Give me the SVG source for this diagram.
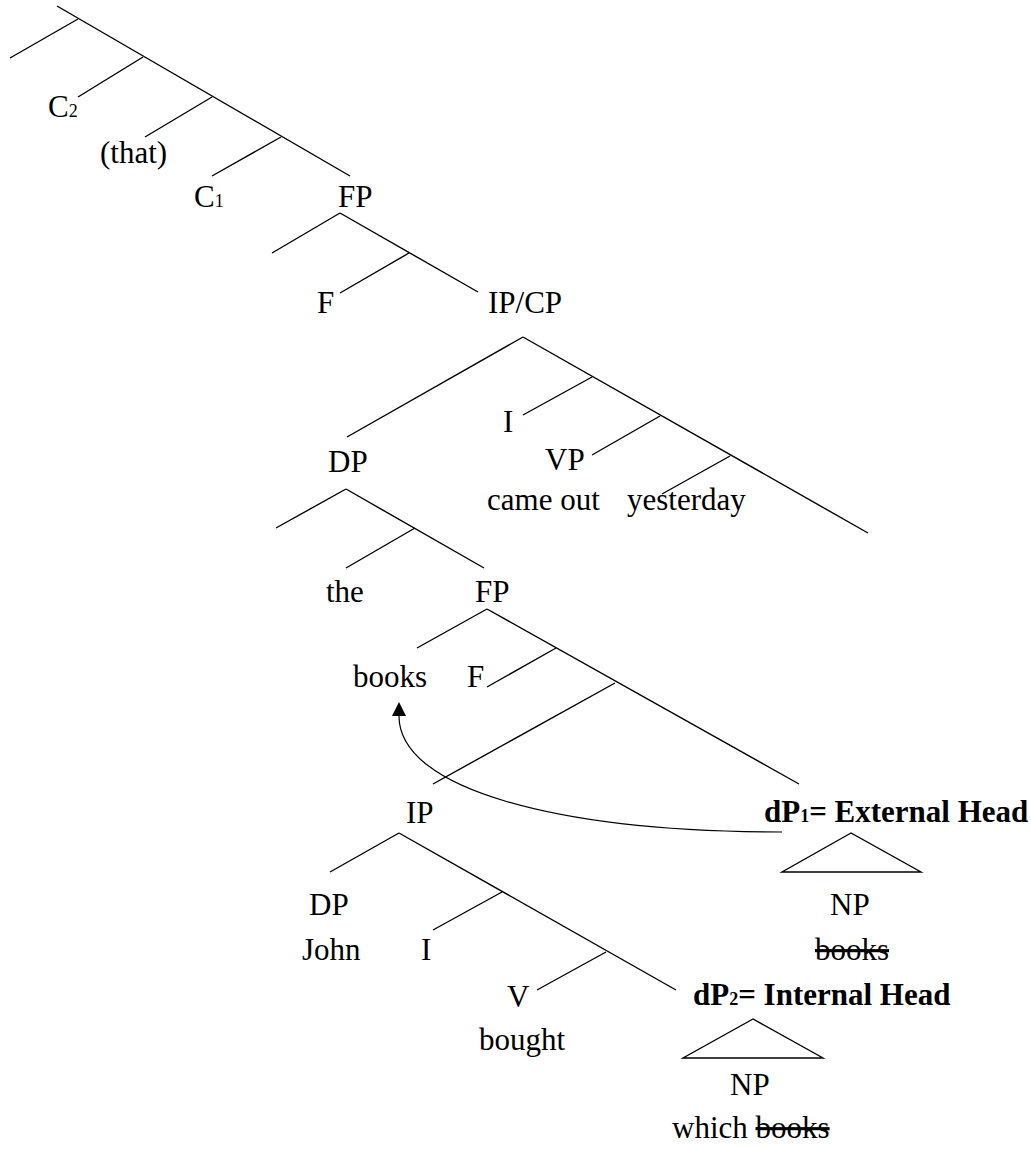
<svg xmlns="http://www.w3.org/2000/svg" width="1031" height="1149" viewBox="0 0 1031 1149">
<style>
text{font-family:"Liberation Serif","Times New Roman",serif;font-size:31px;fill:#000}
.b{font-weight:bold}
.sub{font-size:18px}
.s{text-decoration:line-through}
line,polygon.tri{stroke:#000;stroke-width:1.4;fill:none}
path.arc{stroke:#000;stroke-width:1.2;fill:none}
</style>
<defs>
<marker id="ah" viewBox="0 0 14 14" markerWidth="14" markerHeight="14" refX="0" refY="7" orient="auto" markerUnits="userSpaceOnUse">
<path d="M0,0 L14,7 L0,14 z" fill="#000"/>
</marker>
</defs>
<rect width="1031" height="1149" fill="#fff"/>
<g id="connectors">
<line x1="57" y1="6" x2="350" y2="176"/>
<line x1="78" y1="19" x2="10" y2="58"/>
<line x1="143" y1="57" x2="78" y2="97"/>
<line x1="212" y1="97" x2="145" y2="137"/>
<line x1="281" y1="137" x2="212" y2="176"/>
<line x1="340" y1="213" x2="272" y2="253"/>
<line x1="340" y1="213" x2="478" y2="292"/>
<line x1="409" y1="253" x2="340" y2="293"/>
<line x1="523" y1="337" x2="347" y2="437"/>
<line x1="523" y1="337" x2="868" y2="533"/>
<line x1="592" y1="377" x2="523" y2="415"/>
<line x1="660" y1="416" x2="592" y2="455"/>
<line x1="730" y1="456" x2="662" y2="494"/>
<line x1="346" y1="489" x2="276" y2="528"/>
<line x1="346" y1="489" x2="484" y2="568"/>
<line x1="415" y1="528" x2="346" y2="568"/>
<line x1="487" y1="609" x2="417" y2="648"/>
<line x1="487" y1="609" x2="799" y2="784"/>
<line x1="556" y1="648" x2="487" y2="687"/>
<line x1="615" y1="683" x2="433" y2="784"/>
<line x1="399" y1="833" x2="330" y2="872"/>
<line x1="399" y1="833" x2="676" y2="990"/>
<line x1="502" y1="892" x2="433" y2="930"/>
<line x1="606" y1="952" x2="537" y2="990"/>
<polygon class="tri" points="851,833 782,872 921,872"/>
<polygon class="tri" points="753,1019 683,1058 823,1058"/>
<path class="arc" d="M782,832 C560,832 399,790 399,716" marker-end="url(#ah)"/>
</g>
<g id="n-c2"><text x="48" y="117">C<tspan class="sub">2</tspan></text></g>
<g id="n-that"><text x="100" y="163">(that)</text></g>
<g id="n-c1"><text x="194" y="207">C<tspan class="sub">1</tspan></text></g>
<g id="n-fp1"><text x="338" y="207">FP</text></g>
<g id="n-f1"><text x="317" y="313">F</text></g>
<g id="n-ipcp"><text x="488" y="313">IP/CP</text></g>
<g id="n-i1"><text x="503" y="432">I</text></g>
<g id="n-dp1"><text x="328" y="472">DP</text></g>
<g id="n-vp"><text x="545" y="470">VP</text></g>
<g id="n-cameout"><text x="487" y="510">came out</text></g>
<g id="n-yesterday"><text x="627" y="510">yesterday</text></g>
<g id="n-the"><text x="326" y="602">the</text></g>
<g id="n-fp2"><text x="475" y="602">FP</text></g>
<g id="n-books"><text x="353" y="687">books</text></g>
<g id="n-f2"><text x="467" y="687">F</text></g>
<g id="n-ip"><text x="406" y="823">IP</text></g>
<g id="n-dp1head"><text class="b" x="764" y="822">dP<tspan class="sub">1</tspan>= External Head</text></g>
<g id="n-np1"><text x="830" y="915">NP</text></g>
<g id="n-books2"><text class="s" x="815" y="960">books</text></g>
<g id="n-dp2"><text x="309" y="915">DP</text></g>
<g id="n-john"><text x="302" y="960">John</text></g>
<g id="n-i2"><text x="421" y="960">I</text></g>
<g id="n-v"><text x="507" y="1007">V</text></g>
<g id="n-bought"><text x="479" y="1050">bought</text></g>
<g id="n-dp2head"><text class="b" x="693" y="1005">dP<tspan class="sub">2</tspan>= Internal Head</text></g>
<g id="n-np2"><text x="730" y="1095">NP</text></g>
<g id="n-whichbooks"><text x="672" y="1138">which <tspan class="s">books</tspan></text></g>
</svg>
